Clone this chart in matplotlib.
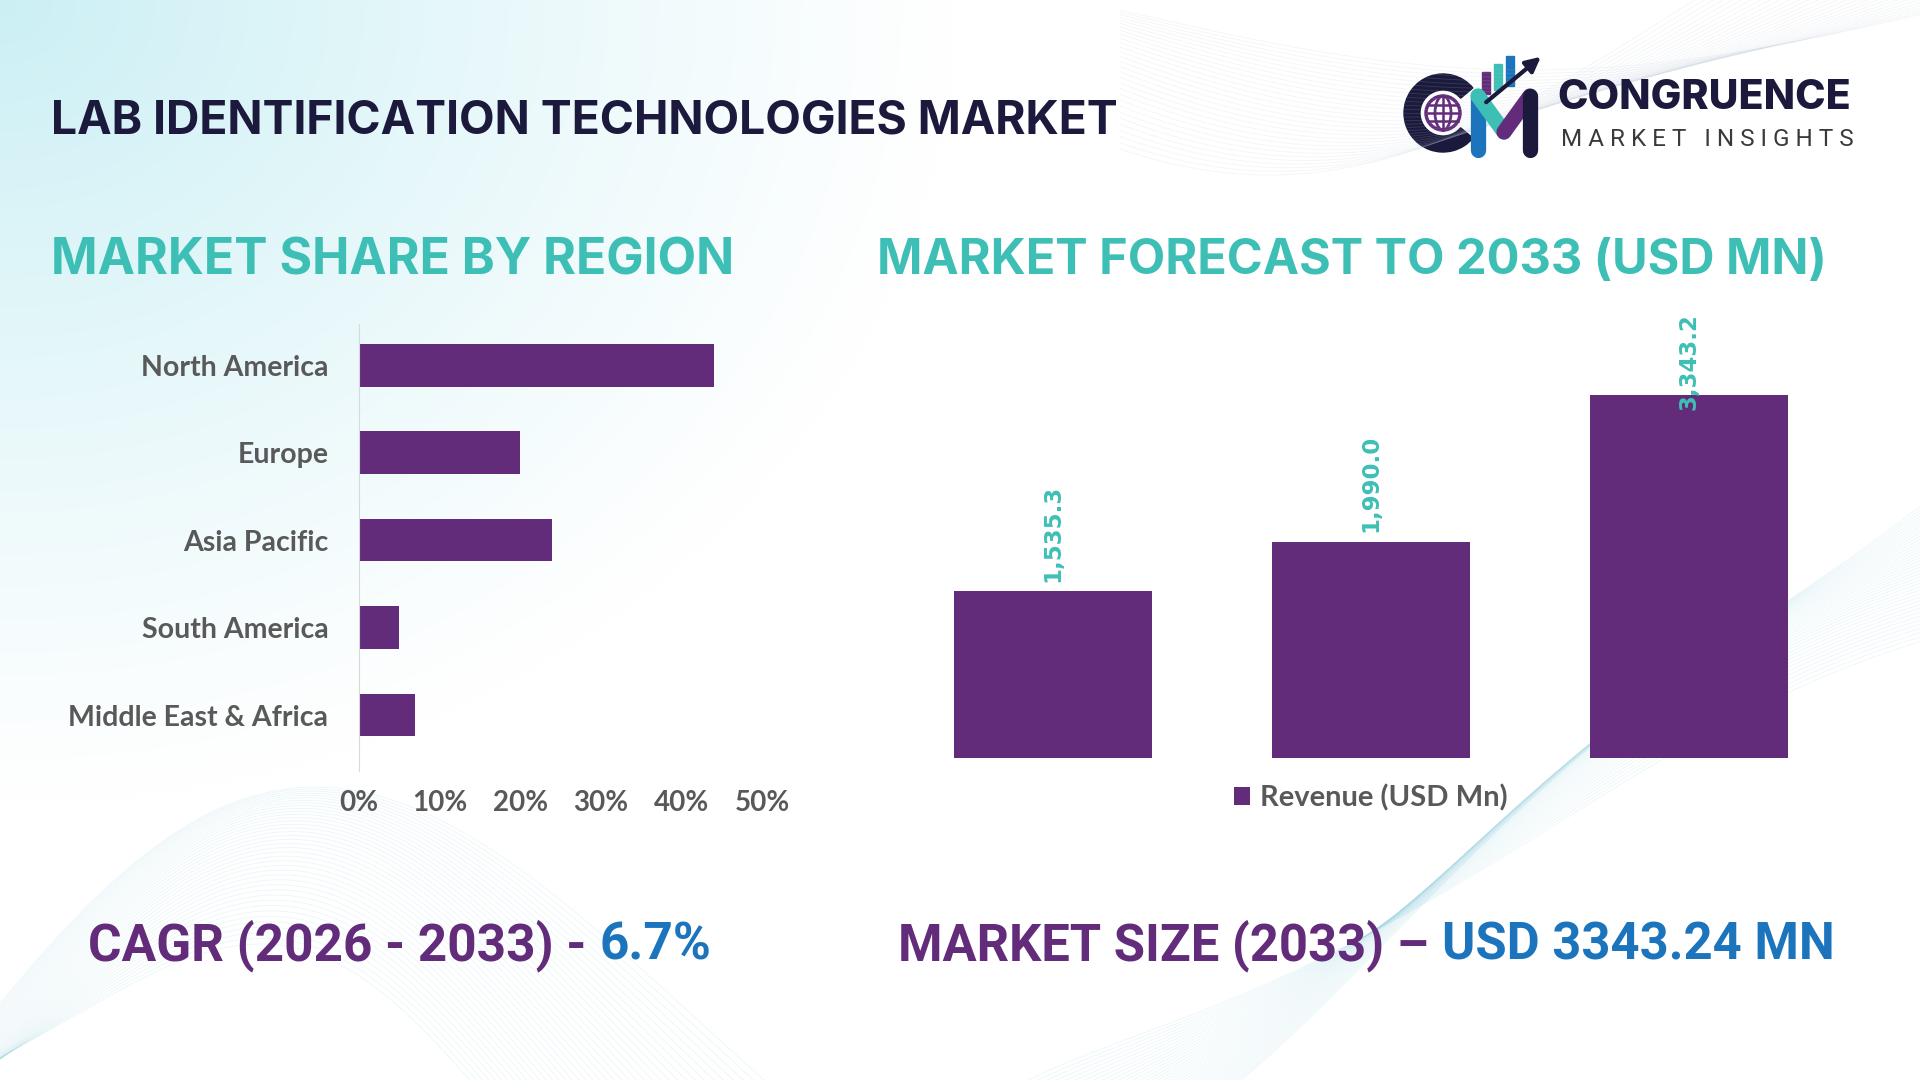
import numpy as np
import matplotlib
matplotlib.use("Agg")
import matplotlib.pyplot as plt
from matplotlib.patches import Wedge, Circle, Ellipse, Rectangle

# ---- data ----
regions = ["North America", "Europe", "Asia Pacific", "South America", "Middle East & Africa"]
region_share = [44, 20, 24, 5, 7]
share_ticks = [0, 10, 20, 30, 40, 50]

forecast_years = ["2025", "2026", "2033"]
revenue = [1535.3, 1990.0, 3343.2]
legend_label = "Revenue (USD Mn)"

main_title = "LAB IDENTIFICATION TECHNOLOGIES MARKET"
left_title = "MARKET SHARE BY REGION"
right_title = "MARKET FORECAST TO 2033 (USD MN)"
cagr_text, cagr_value = "CAGR (2026 - 2033) - ", "6.7%"
size_text, size_value = "MARKET SIZE (2033) \u2013 ", "USD 3343.24 MN"

# colours
PURPLE = "#622C7A"
TEAL = "#3EBFB5"
NAVY = "#1B1A3C"
BLUE = "#1C75BC"
GRAY = "#595959"

TITLE_FONT = ["Inter", "DejaVu Sans"]
LABEL_FONT = ["Lato", "DejaVu Sans"]

fig = plt.figure(figsize=(19.2, 10.8), dpi=100)

# background layer in pixel coordinates (y down)
bg = fig.add_axes([0, 0, 1, 1], zorder=-5)
bg.set_xlim(0, 1920)
bg.set_ylim(1080, 0)
bg.axis("off")

yy, xx = np.mgrid[0:1080:4, 0:1920:4]
d = np.sqrt((xx / 950.0) ** 2 + (yy / 800.0) ** 2)
a = np.clip(1.0 - d, 0, 1) ** 1.1
cyan = np.array([0.80, 0.94, 0.96])
img = np.ones(xx.shape + (3,)) * (1 - a[..., None]) + cyan * a[..., None]
bg.imshow(img, extent=(0, 1920, 1080, 0), aspect="auto", interpolation="bilinear")

# decorative wave meshes
t = np.linspace(0, 1, 300)
for k in range(40):
    p = k / 39.0
    x = -80 + (560 + 320 * p) * t
    y = 1100 - 300 * np.sin(np.pi * t) * (0.5 + 0.5 * p) + 30 * np.sin(6 * t + p * 3)
    bg.plot(x, y, color="#8fcfdc", lw=0.6, alpha=0.18)
for k in range(40):
    p = k / 39.0
    x = (1000 + 160 * p) + (920 - 160 * p) * t
    y = 1100 - (420 + 200 * p) * t ** (0.8 + 0.4 * p) + 40 * np.sin(5 * t + p * 2)
    bg.plot(x, y, color="#9fd6e4", lw=0.6, alpha=0.2)
for k in range(30):
    p = k / 29.0
    x = 1120 + 820 * t
    y = 10 + 150 * np.sin(np.pi * t + p) * (0.4 + 0.7 * p)
    bg.plot(x, y, color="#b8c6d6", lw=0.6, alpha=0.18)

# ---- titles ----
bg.text(51, 122, main_title, fontsize=33.3, fontweight="bold", color=NAVY,
        family=TITLE_FONT, va="center", ha="left")
bg.text(51, 261, left_title, fontsize=36, fontweight="bold", color=TEAL,
        family=TITLE_FONT, va="center", ha="left")
bg.text(877, 261, right_title, fontsize=35, fontweight="bold", color=TEAL,
        family=TITLE_FONT, va="center", ha="left")

# ---- logo ----
bg.add_patch(Wedge((1443, 113), 39, 40, 320, width=16, color=NAVY))
bg.add_patch(Circle((1443, 113), 17, fill=False, ec=PURPLE, lw=2.5))
bg.add_patch(Ellipse((1443, 113), 16, 34, fill=False, ec=PURPLE, lw=2))
for dy in (-8, 0, 8):
    bg.plot([1428, 1458], [113 + dy, 113 + dy], color=PURPLE, lw=1.8)
bg.plot([1443, 1443], [96, 130], color=PURPLE, lw=1.8)
bg.add_patch(Rectangle((1482, 72), 8, 22, color=PURPLE))
bg.add_patch(Rectangle((1494, 64), 8, 26, color=TEAL))
bg.add_patch(Rectangle((1506, 56), 8, 30, color=BLUE))
bg.plot([1478, 1478], [150, 96], color=BLUE, lw=11, solid_capstyle="round")
bg.plot([1478, 1504], [96, 132], color=TEAL, lw=11, solid_capstyle="round")
bg.plot([1504, 1530], [132, 96], color=PURPLE, lw=11, solid_capstyle="round")
bg.plot([1530, 1530], [96, 150], color=NAVY, lw=11, solid_capstyle="round")
bg.annotate("", xy=(1543, 55), xytext=(1484, 104),
            arrowprops=dict(arrowstyle="-|>", color=NAVY, lw=3, mutation_scale=22))
bg.text(1557, 98, "CONGRUENCE", fontsize=29.5, fontweight="heavy", color=NAVY,
        family=TITLE_FONT, va="center", ha="left")
bg.text(1561, 139, "M A R K E T   I N S I G H T S", fontsize=17.5,
        color="#3a3a3a", family=["Roboto", "DejaVu Sans"], va="center", ha="left")

# ---- left chart: market share by region ----
ax1 = fig.add_axes([359 / 1920, (1080 - 771) / 1080, (762 - 359) / 1920, 447 / 1080])
ax1.patch.set_alpha(0)
ax1.barh(range(len(regions)), region_share, height=0.49, color=PURPLE)
ax1.set_ylim(4.64, -0.47)
ax1.set_xlim(0, 50)
ax1.set_xticks(share_ticks)
ax1.set_xticklabels([f"{s}%" for s in share_ticks])
ax1.set_yticks(range(len(regions)))
ax1.set_yticklabels(regions)
for s in ("top", "right", "bottom"):
    ax1.spines[s].set_visible(False)
ax1.spines["left"].set_color("#d9d9d9")
ax1.tick_params(axis="both", length=0, colors=GRAY)
ax1.tick_params(axis="y", pad=22)
ax1.tick_params(axis="x", pad=14)
for lab in ax1.get_yticklabels():
    lab.set_family(LABEL_FONT)
    lab.set_fontweight("bold")
    lab.set_fontsize(20.5)
for lab in ax1.get_xticklabels():
    lab.set_family(LABEL_FONT)
    lab.set_fontweight("bold")
    lab.set_fontsize(20)

# ---- right chart: forecast ----
ax2 = fig.add_axes([894 / 1920, (1080 - 758) / 1080, 954 / 1920, 445 / 1080])
ax2.patch.set_alpha(0)
pos = np.arange(len(revenue))
ax2.bar(pos, revenue, width=0.624, color=PURPLE, label=legend_label)
ax2.set_xlim(-0.5, len(revenue) - 0.5)
ytop = 4101
ax2.set_ylim(0, ytop)
ax2.axis("off")
for x, v in zip(pos, revenue):
    lbl = f"{v:,.1f}"
    if v + 950 < ytop:
        ax2.annotate(lbl, (x, v), xytext=(0, 7), textcoords="offset points",
                     rotation=90, ha="center", va="bottom", color=TEAL,
                     fontsize=16.5, fontweight="bold", family=["DejaVu Sans"])
    else:
        ax2.text(x, ytop, lbl, rotation=90, ha="center", va="top", color=TEAL,
                 fontsize=16.5, fontweight="bold", family=["DejaVu Sans"])
ax2.legend(loc="upper center", bbox_to_anchor=(0.5, 0.0), frameon=False,
           handlelength=0.55, handleheight=0.55, handletextpad=0.35,
           prop=dict(family=LABEL_FONT, weight="bold", size=21), labelcolor=GRAY)

# ---- bottom key figures ----
r = fig.canvas.get_renderer()
BOTTOM_FONT = ["Roboto", "DejaVu Sans"]
t1 = bg.text(88, 946, cagr_text, fontsize=37, fontweight="bold", color=PURPLE,
             family=BOTTOM_FONT, va="center", ha="left")
bb = t1.get_window_extent(renderer=r)
bg.text(88 + bb.width, 946, cagr_value, fontsize=37, fontweight="bold", color=BLUE,
        family=BOTTOM_FONT, va="center", ha="left")
t2 = bg.text(898, 946, size_text, fontsize=36.5, fontweight="bold", color=PURPLE,
             family=BOTTOM_FONT, va="center", ha="left")
bb = t2.get_window_extent(renderer=r)
bg.text(898 + bb.width, 946, size_value, fontsize=36.5, fontweight="bold", color=BLUE,
        family=BOTTOM_FONT, va="center", ha="left")

fig.savefig("out.png", dpi=100)
